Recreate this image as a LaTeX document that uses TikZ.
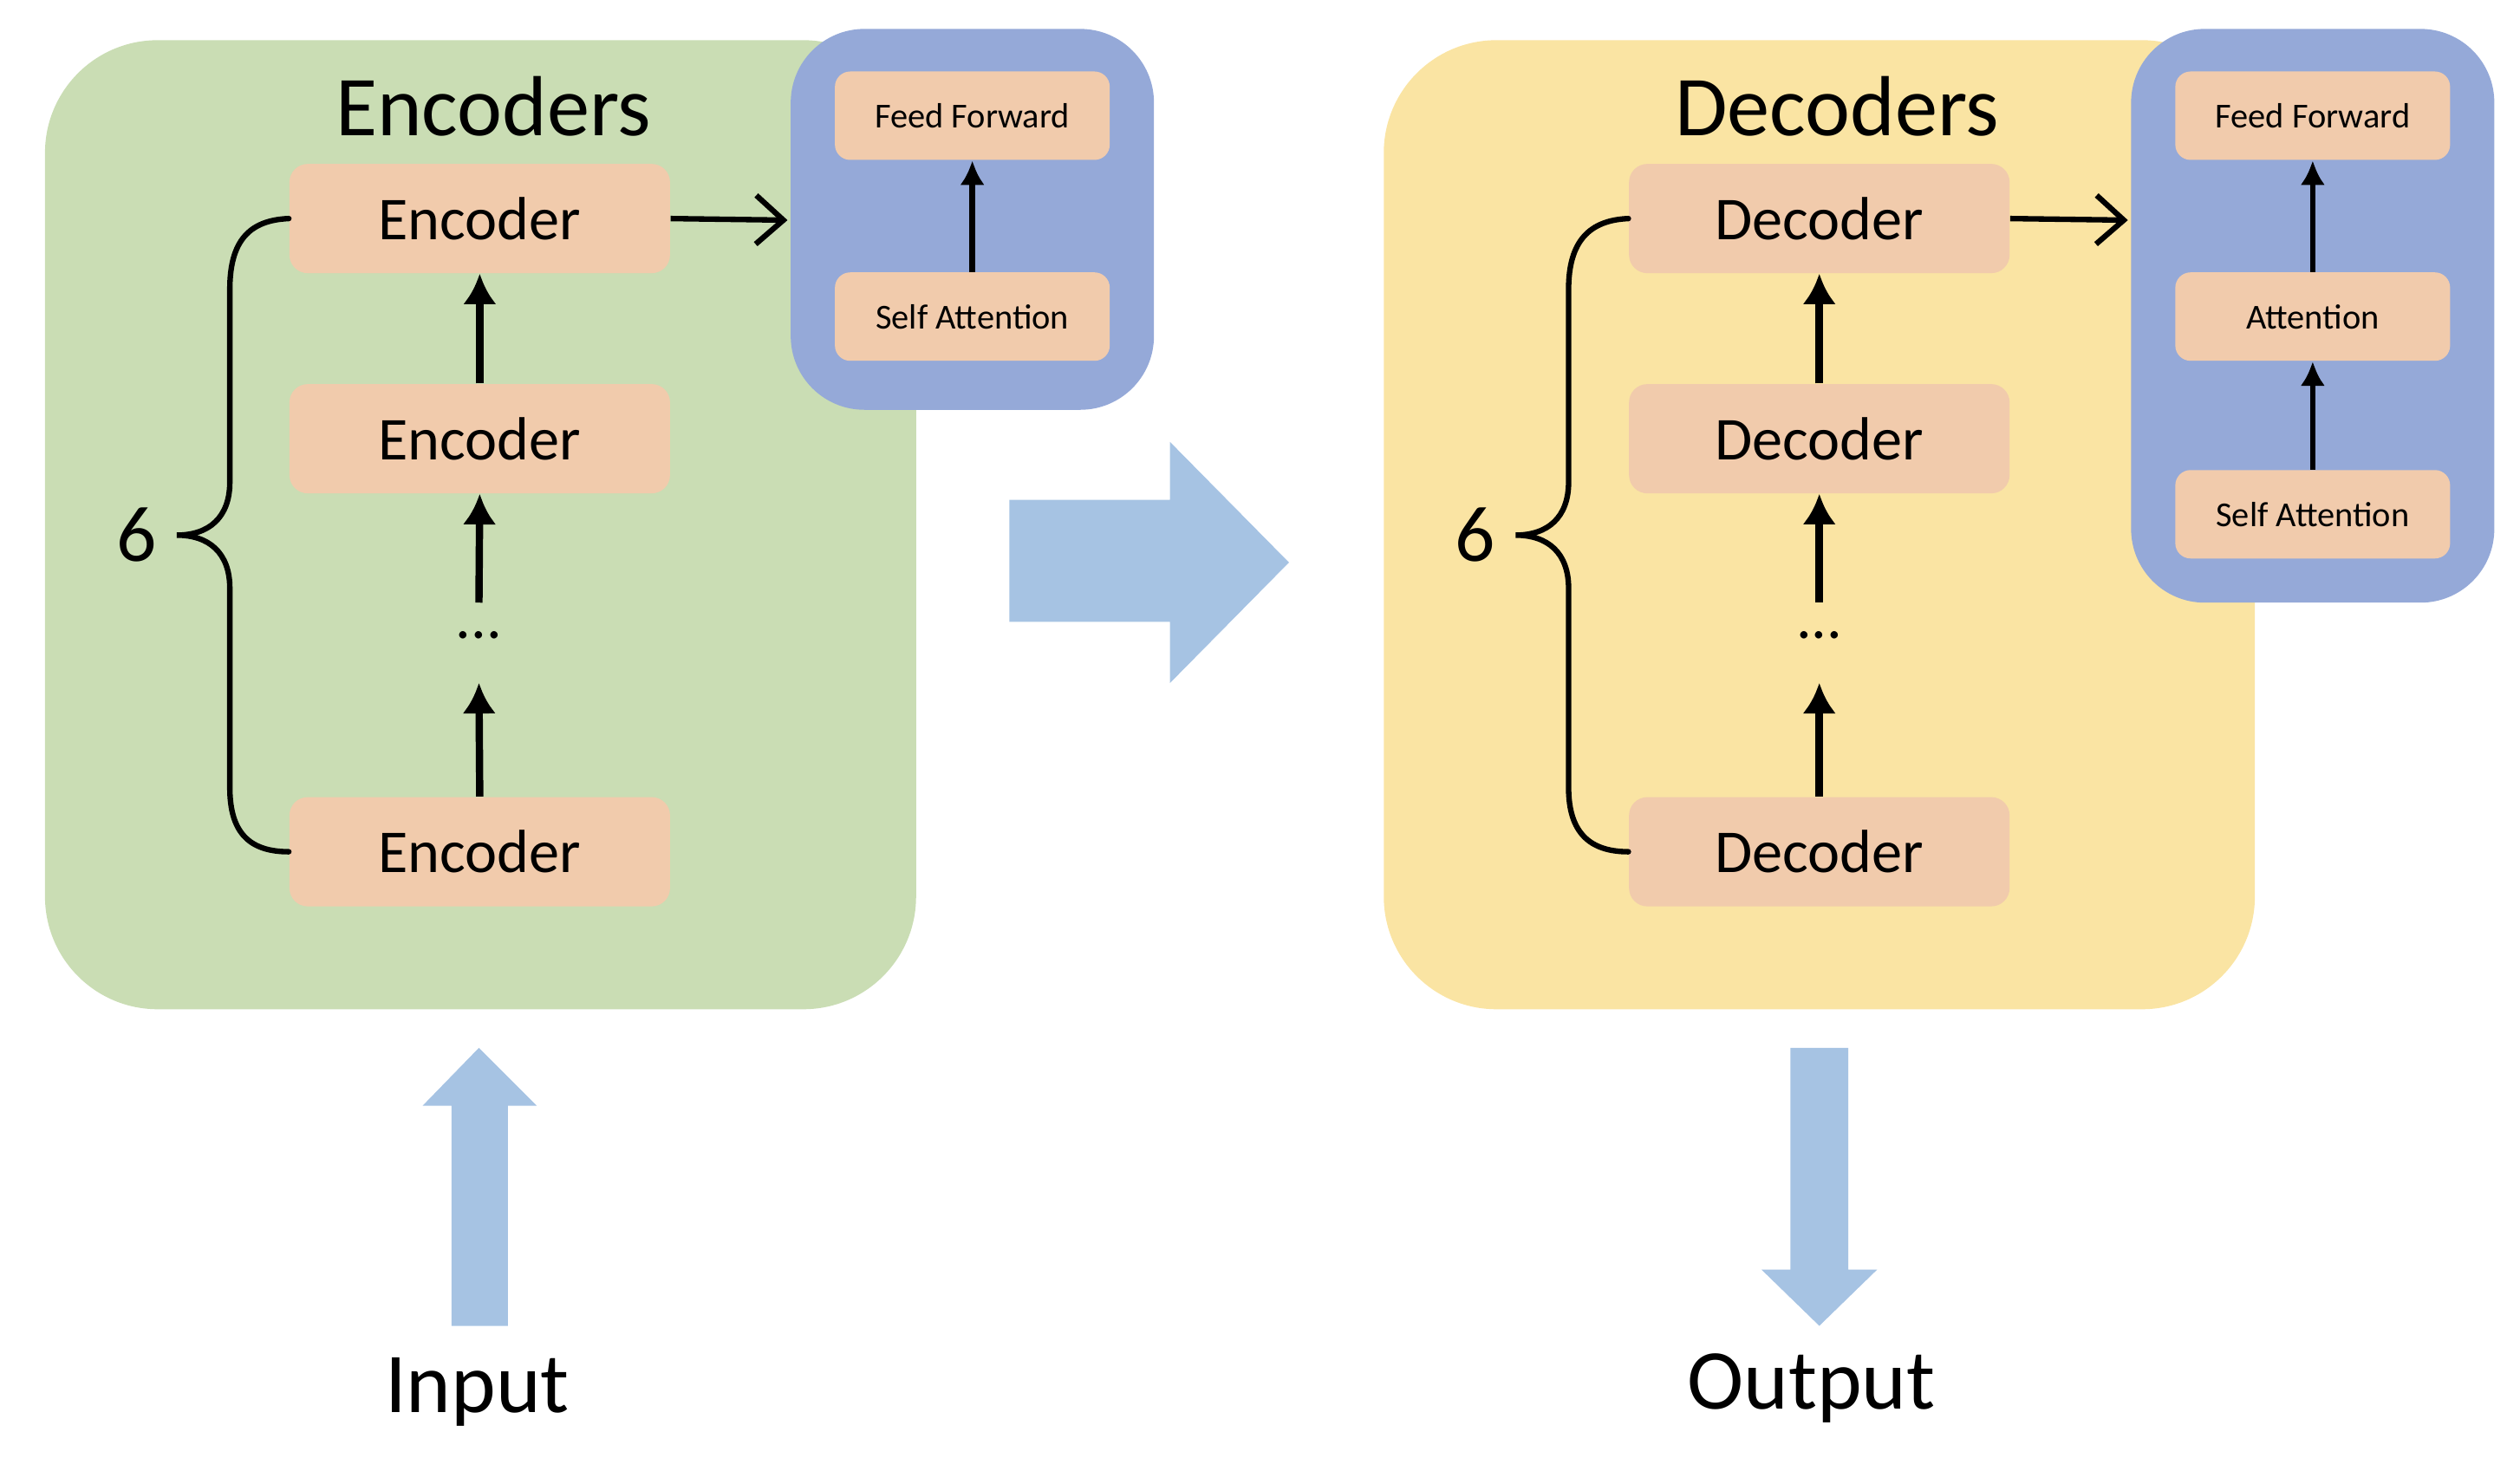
\documentclass[tikz,border=0pt]{standalone}
\usepackage{fontspec}
\setmainfont{Carlito}
\usetikzlibrary{arrows.meta}
\definecolor{encbg}{HTML}{CADDB4}
\definecolor{decbg}{HTML}{FAE4A3}
\definecolor{blk}{HTML}{F1CBAC}
\definecolor{sub}{HTML}{95A9D8}
\definecolor{bigarr}{HTML}{A6C3E3}
\tikzset{
 big/.style={fill=blk,rounded corners=6pt,minimum width=4.39cm,minimum height=1.26cm,font=\fontsize{20}{24}\selectfont},
 small/.style={fill=blk,rounded corners=5pt,minimum width=3.17cm,minimum height=1.02cm,font=\fontsize{11.5}{14}\selectfont},
 ar/.style={line width=2.4pt,-{Latex[length=10pt,width=11pt]}},
 ar2/.style={line width=1.8pt,-{Latex[length=8pt,width=8pt]}},
 ar3/.style={line width=1.8pt,-{Straight Barb[length=9pt,width=16pt,line width=1.8pt]}},
 title/.style={font=\fontsize{28}{32}\selectfont},
 brace/.style={line width=1.8pt,line cap=round}
}
\begin{document}
\begin{tikzpicture}[x=0.01854cm,y=-0.01854cm]
\useasboundingbox (0,0) rectangle (1568,907);
% backgrounds
\fill[encbg,rounded corners=1.3cm] (28,25) rectangle (570,628);
\fill[decbg,rounded corners=1.3cm] (861,25) rectangle (1403,628);
\fill[sub,rounded corners=0.85cm] (492,18) rectangle (718,255);
\fill[sub,rounded corners=0.85cm] (1326,18) rectangle (1552,375);
% encoder side
\node[title] (et) at (307,66) {Encoders};
\node[big] (e1) at (298.5,136) {Encoder};
\node[big] (e2) at (298.5,273) {Encoder};
\node[font=\fontsize{20}{24}\selectfont] (ed) at (298,395) {...};
\node[big] (e3) at (298.5,530) {Encoder};
\draw[ar] (e2) -- (e1);
\draw[ar] (e3.north) -- (298,425);
\draw[ar] (298,375) -- (e2.south);
\node[small] (eff) at (605,72) {Feed Forward};
\node[small] (esa) at (605,197) {Self Attention};
\draw[ar2] (esa) -- (eff);
\coordinate (esub) at (490,137);
\draw[ar3] (e1.east) -- (esub);
\draw[brace] (e1.west) .. controls (155,137) and (143,150) .. (143,180) -- (143,300) .. controls (143,322) and (130,333) .. (110,333) .. controls (130,333) and (143,344) .. (143,366) -- (143,490) .. controls (143,518) and (155,530) .. (e3.west);
\node[font=\fontsize{26}{30}\selectfont] (e6) at (85,333) {6};
% decoder side
\node[title] (dt) at (1143,66) {Decoders};
\node[big] (d1) at (1132,136) {Decoder};
\node[big] (d2) at (1132,273) {Decoder};
\node[font=\fontsize{20}{24}\selectfont] (dd) at (1132,395) {...};
\node[big] (d3) at (1132,530) {Decoder};
\draw[ar] (d2) -- (d1);
\draw[ar] (d3.north) -- (1132,425);
\draw[ar] (1132,375) -- (d2.south);
\node[small] (dff) at (1439,72) {Feed Forward};
\node[small] (dat) at (1439,197) {Attention};
\node[small] (dsa) at (1439,320) {Self Attention};
\draw[ar2] (dat) -- (dff);
\draw[ar2] (dsa) -- (dat);
\coordinate (dsub) at (1324,137);
\draw[ar3] (d1.east) -- (dsub);
\draw[brace] (d1.west) .. controls (989,137) and (976,150) .. (976,180) -- (976,300) .. controls (976,322) and (963,333) .. (943,333) .. controls (963,333) and (976,344) .. (976,366) -- (976,490) .. controls (976,518) and (989,530) .. (d3.west);
\node[font=\fontsize{26}{30}\selectfont] (d6) at (918,333) {6};
% big arrows
\fill[bigarr] (628,311) -- (728,311) -- (728,275) -- (802,350) -- (728,425) -- (728,387) -- (628,387) -- cycle;
\fill[bigarr] (281,825) -- (281,688) -- (263,688) -- (298,652) -- (334,688) -- (316,688) -- (316,825) -- cycle;
\fill[bigarr] (1114,652) -- (1114,790) -- (1096,790) -- (1132,825) -- (1168,790) -- (1150,790) -- (1150,652) -- cycle;
\node[title] (in) at (297,866) {Input};
\node[title] (out) at (1127,864) {Output};
\end{tikzpicture}
\end{document}
